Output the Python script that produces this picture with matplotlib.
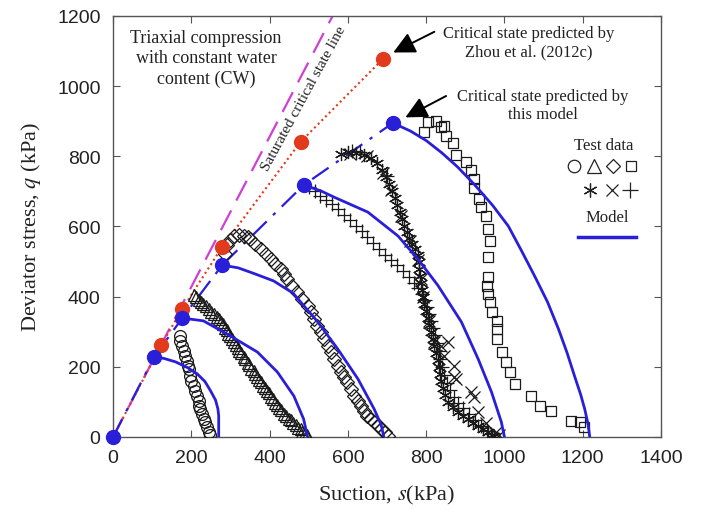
import matplotlib
matplotlib.use("Agg")
import matplotlib.pyplot as plt

plt.rcParams['font.family'] = ['Liberation Serif', 'DejaVu Serif']
plt.rcParams['mathtext.fontset'] = 'stix'

# Datos (s en kPa, q en kPa)
circ_s = [170, 172, 176, 181, 183, 189, 191, 193, 197, 199, 206, 210, 215, 219, 219, 223, 227, 232, 236, 240, 244, 248]
circ_q = [289, 275, 260, 246, 232, 218, 203, 194, 175, 161, 146, 132, 118, 103, 89, 80, 66, 51, 42, 28, 15, 5]

tri_s = [207, 213, 219, 224, 231, 237, 244, 251, 257, 265, 270, 277, 282, 285, 290, 293, 298, 304, 308, 313, 319, 323,
         328, 334, 338, 344, 348, 353, 359, 363, 368, 374, 378, 383, 389, 393, 398, 404, 408, 413, 419, 424, 430, 437,
         442, 449, 454, 460, 467, 472, 479, 484, 490, 496]
tri_q = [404, 398, 391, 386, 379, 373, 366, 357, 351, 341, 336, 327, 321, 311, 304, 294, 288, 278, 271, 261, 255, 246,
         239, 228, 222, 212, 205, 195, 189, 179, 172, 162, 156, 146, 140, 130, 124, 114, 108, 98, 92, 82, 76, 66,
         61, 52, 47, 39, 34, 26, 22, 14, 10, 5]

dia_s = [286, 292, 300, 310, 322, 335, 345, 351, 364, 377, 390, 403, 415, 428, 437, 445, 458, 471, 484, 497, 506, 514,
         522, 531, 540, 548, 557, 565, 574, 582, 591, 599, 608, 616, 625, 633, 642, 650, 659, 667, 676, 685, 694, 702]
dia_q = [522, 548, 562, 572, 576, 572, 569, 564, 551, 536, 521, 507, 494, 479, 465, 450, 431, 412, 394, 374, 355, 336,
         317, 298, 279, 260, 241, 222, 203, 184, 170, 156, 137, 118, 104, 89, 75, 61, 52, 42, 33, 23, 13, 4]

ast_s = [582, 600, 620, 640, 660, 675, 688, 698, 706, 712, 720, 726, 732, 738, 744, 750, 757, 765, 772, 778, 781, 783,
         785, 787, 789, 792, 795, 799, 804, 808, 812, 817, 821, 825, 829, 832, 835, 838, 842, 848, 856, 868, 882, 895,
         908, 920, 933, 946, 959, 968, 974]
ast_q = [807, 812, 810, 805, 795, 780, 760, 740, 720, 700, 680, 660, 640, 620, 600, 585, 568, 550, 535, 518, 500, 480,
         460, 440, 420, 400, 380, 360, 340, 320, 300, 280, 260, 240, 220, 200, 180, 160, 140, 120, 100, 85, 71, 60,
         51, 40, 31, 22, 14, 7, 2]

crs_s = [605, 650, 690, 710, 735, 760, 780, 786, 791, 806, 820, 838, 846, 856, 872, 872, 877, 915, 923, 933, 952, 975, 985]
crs_q = [808, 800, 752, 705, 630, 560, 505, 450, 400, 330, 270, 259, 231, 271, 202, 171, 165, 128, 114, 71, 40, 12, 5]

plus_s = [487, 500, 515, 530, 545, 560, 575, 590, 605, 620, 635, 650, 665, 680, 695, 710, 725, 740, 755, 768, 780, 790,
          797, 803, 808, 813, 818, 823, 828, 832, 836, 840, 845, 852, 860, 870, 882, 895, 910, 925, 940, 955, 965,
          610, 630, 700]
plus_q = [718, 712, 700, 688, 676, 664, 650, 634, 618, 602, 586, 570, 552, 536, 520, 505, 490, 472, 456, 440, 425, 408,
          390, 370, 350, 330, 310, 290, 268, 245, 222, 200, 178, 155, 135, 115, 98, 82, 65, 48, 32, 18, 8,
          815, 812, 745]

sq_s = [795, 805, 826, 838, 846, 851, 869, 877, 903, 915, 921, 923, 936, 941, 954, 959, 962, 959, 959, 956, 959, 964,
        969, 982, 982, 982, 995, 1005, 1013, 1028, 1069, 1090, 1118, 1169, 1192, 1203]
sq_q = [869, 898, 901, 884, 887, 858, 838, 804, 784, 761, 735, 710, 678, 656, 630, 593, 559, 513, 456, 430, 408, 385,
        356, 331, 308, 279, 242, 214, 185, 151, 117, 88, 74, 46, 43, 29]

# Curvas del modelo
m1_s = [105, 130, 160, 190, 215, 235, 250, 262, 268, 270, 270]
m1_q = [228, 224, 214, 198, 180, 158, 130, 105, 80, 60, 0]
m2_s = [177, 231, 300, 369, 420, 462, 487, 497]
m2_q = [339, 331, 288, 242, 185, 117, 51, 0]
m3_s = [279, 320, 360, 410, 460, 523, 574, 626, 667, 685, 692]
m3_q = [490, 482, 466, 445, 410, 328, 251, 165, 80, 35, 0]
m4_s = [487, 530, 564, 651, 728, 779, 830, 890, 933, 967, 992, 1000]
m4_q = [718, 702, 684, 641, 573, 507, 432, 328, 222, 128, 43, 0]
m5_s = [715, 760, 800, 840, 880, 923, 970, 1010, 1044, 1077, 1110, 1138, 1160, 1179, 1195, 1205, 1213, 1218]
m5_q = [895, 872, 845, 810, 770, 720, 660, 601, 530, 459, 385, 308, 240, 174, 120, 80, 40, 0]

# Estados criticos
cs_model_s = [0, 105, 177, 279, 487, 715]
cs_model_q = [0, 228, 339, 490, 718, 895]
cs_zhou_s = [0, 123, 177, 279, 479, 690]
cs_zhou_q = [0, 262, 365, 542, 841, 1078]
csl_s = [0, 561]
csl_q = [0, 1200]

BLUE = '#2a1fd9'
RED = '#e23a1c'
MAG = '#cf3fd6'

fig = plt.figure(figsize=(7.05, 5.1), dpi=100)
ax = fig.add_axes([0.1603, 0.1412, 0.7773, 0.8255])

ax.plot(csl_s, csl_q, color=MAG, lw=1.6, dashes=(10, 5), zorder=2)
ax.plot(cs_zhou_s, cs_zhou_q, color=RED, lw=1.5, ls=(0, (1, 1.5)), zorder=2)
ax.plot(cs_model_s, cs_model_q, color=BLUE, lw=1.6, dashes=(9, 4, 1.5, 4), zorder=2)

mk = dict(ls='none', mfc='none', mec='#1a1a1a', mew=0.9, zorder=3)
ax.plot(circ_s, circ_q, marker='o', ms=8.5, **mk)
ax.plot(tri_s, tri_q, marker='^', ms=9, **mk)
ax.plot(dia_s, dia_q, marker='D', ms=7.5, **mk)
ax.plot(sq_s, sq_q, marker='s', ms=7.5, **mk)
ax.plot(ast_s, ast_q, marker=(6, 2, 0), ms=9.5, **mk)
ax.plot(crs_s, crs_q, marker='x', ms=8.5, **mk)
ax.plot(plus_s, plus_q, marker='+', ms=10, **mk)

for s, q in [(m1_s, m1_q), (m2_s, m2_q), (m3_s, m3_q), (m4_s, m4_q), (m5_s, m5_q)]:
    ax.plot(s, q, color=BLUE, lw=2, zorder=4)

ax.plot(cs_zhou_s[1:], cs_zhou_q[1:], 'o', color=RED, ms=10, zorder=5, clip_on=False)
ax.plot(cs_model_s, cs_model_q, 'o', color=BLUE, ms=10, zorder=5, clip_on=False)

ax.set_xlim(0, 1400)
ax.set_ylim(0, 1200)
ax.set_xticks(range(0, 1401, 200))
ax.set_yticks(range(0, 1201, 200))
ax.tick_params(direction='in', top=True, right=True, length=5, width=0.8,
               labelsize=14, labelcolor='#222222', color='#555555', pad=9)
for lab in ax.get_xticklabels() + ax.get_yticklabels():
    lab.set_fontfamily('Liberation Sans')
for sp in ax.spines.values():
    sp.set_color('#555555')
    sp.set_linewidth(1)

ax.set_xlabel('Suction, $s$(kPa)', fontsize=16, labelpad=12, color='#222222')
ax.set_ylabel('Deviator stress, $q$ (kPa)', fontsize=16, labelpad=10, color='#222222')

# Textos
ax.text(238, 1080, 'Triaxial compression\nwith constant water\ncontent (CW)', fontsize=13,
        ha='center', va='center', linespacing=1.25, color='#222222')
ax.text(487, 968, 'Saturated critical state line', fontsize=11, rotation=61.5,
        ha='center', va='center', color='#222222')
ax.text(1062, 1126, 'Critical state predicted by\nZhou et al. (2012c)', fontsize=12,
        ha='center', va='center', linespacing=1.2, color='#222222')
ax.text(1098, 946, 'Critical state predicted by\nthis model', fontsize=12,
        ha='center', va='center', linespacing=1.2, color='#222222')
ap = dict(arrowstyle='-|>,head_length=0.6,head_width=0.3', color='black', lw=1.4,
          mutation_scale=22, shrinkA=0, shrinkB=0)
ax.annotate('', xy=(716, 1096), xytext=(821, 1155), arrowprops=ap)
ax.annotate('', xy=(747, 911), xytext=(851, 972), arrowprops=ap)

# Leyenda manual
ax.text(1254, 832, 'Test data', fontsize=12, ha='center', va='center', color='#222222')
ax.text(1262, 627, 'Model', fontsize=12, ha='center', va='center', color='#222222')
leg = dict(mfc='none', mec='#222222', mew=0.9, clip_on=False)
ax.plot([1177], [773], marker='o', ms=9, **leg)
ax.plot([1228], [773], marker='^', ms=10, **leg)
ax.plot([1277], [773], marker='D', ms=7.5, **leg)
ax.plot([1323], [773], marker='s', ms=7, **leg)
ax.plot([1218], [704], marker=(6, 2, 0), ms=10, **leg)
ax.plot([1274], [704], marker='x', ms=8, **leg)
ax.plot([1321], [704], marker='+', ms=11, **leg)
ax.plot([1188, 1337], [570, 570], color=BLUE, lw=2.5)

fig.savefig('out.png', dpi=100)
